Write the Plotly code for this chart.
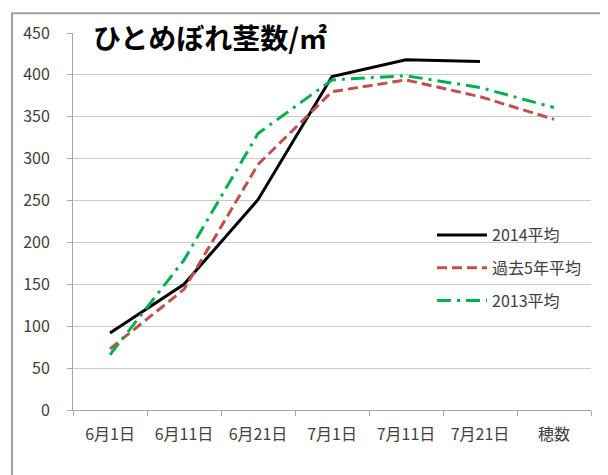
import plotly.graph_objects as go

categories = ["6月1日", "6月11日", "6月21日", "7月1日", "7月11日", "7月21日", "穂数"]
s2014 = [92, 150, 251, 398, 418, 416, None]
s5yr = [73, 144, 293, 380, 394, 374, 347]
s2013 = [66, 179, 330, 394, 399, 385, 361]
names = ["2014平均", "過去5年平均", "2013平均"]
title_text = "ひとめぼれ茎数/㎡"

FONT = "Noto Sans CJK JP"
OFF = 8  # page body margin
W, H = 608 - OFF, 475 - OFF
# plot area in page coordinates
PL, PR, PT, PB = 73, 591, 29, 410
L, R, T, B = PL - OFF, W - (PR - OFF), PT - OFF, H - (PB - OFF)
pw, ph = PR - PL, PB - PT

def px_x(px):
    return (px - PL) / pw

def px_y(py):
    return (PB - py) / ph

fig = go.Figure()
fig.add_trace(go.Scatter(x=categories, y=s2014, name=names[0], mode="lines", legendgroup="a",
                         line=dict(color="#000000", width=3)))
fig.add_trace(go.Scatter(x=categories, y=s5yr, name=names[1], mode="lines", legendgroup="b",
                         line=dict(color="#C0504D", width=3, dash="10px,5px")))
fig.add_trace(go.Scatter(x=categories, y=s2013, name=names[2], mode="lines", legendgroup="c",
                         line=dict(color="#00B050", width=3, dash="14px,6px,3px,6px")))

fig.update_layout(
    width=W, height=H,
    margin=dict(l=L, r=R, t=T, b=B, pad=0),
    paper_bgcolor="white", plot_bgcolor="white",
    font=dict(family=FONT, size=16, color="#404040"),
    showlegend=True,
    legend=dict(x=px_x(432), y=px_y(216), xanchor="left", yanchor="top",
                bgcolor="rgba(0,0,0,0)", font=dict(size=16, color="#404040"),
                itemwidth=50, tracegroupgap=9, traceorder="grouped"),
    xaxis=dict(type="category", categoryorder="array", categoryarray=categories,
               range=[-0.5, 6.5], showgrid=False, showline=True, linecolor="#a6a6a6",
               linewidth=1, ticks="outside", tickson="boundaries", ticklen=5,
               tickcolor="#a6a6a6", tickfont=dict(size=16, color="#404040"),
               ticklabelstandoff=10, fixedrange=True),
    yaxis=dict(range=[0, 450], dtick=50, showgrid=True, gridcolor="#c8c8c8",
               gridwidth=1, showline=True, linecolor="#a6a6a6", linewidth=1,
               ticks="outside", ticklen=5, tickcolor="#a6a6a6",
               tickfont=dict(size=16, color="#404040"), zeroline=False,
               ticklabelstandoff=14),
    annotations=[dict(text=title_text, xref="paper", yref="paper",
                      x=px_x(91), y=px_y(33), xanchor="left", yanchor="middle",
                      showarrow=False, bgcolor="white",
                      font=dict(family=FONT, size=28, color="#000000", weight="bold"))],
    shapes=[dict(type="rect", xref="paper", yref="paper",
                 x0=px_x(12), x1=px_x(605), y0=px_y(490), y1=px_y(OFF + 1),
                 line=dict(color="#a0a0a0", width=2), layer="below")],
)

fig.write_html("out.html")
